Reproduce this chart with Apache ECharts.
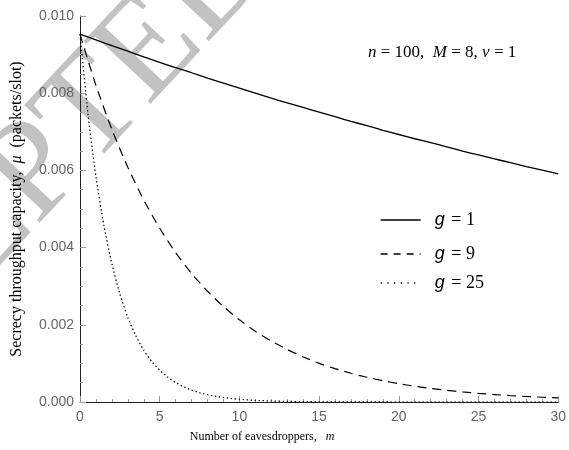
<!DOCTYPE html>
<html>
<head>
<meta charset="utf-8">
<script src="https://cdn.jsdelivr.net/npm/echarts@6/dist/echarts.min.js"></script>
<style>
html,body{margin:0;padding:0;background:#fff;}
#chart{width:569px;height:450px;}
</style>
</head>
<body>
<div id="chart"></div>
<script>
// Number of eavesdroppers m (integer grid) and finer grid for g = 25
const mGrid = [0,1,2,3,4,5,6,7,8,9,10,11,12,13,14,15,16,17,18,19,20,21,22,23,24,25,26,27,28,29,30];
const capG1 = [0.00953,0.00938,0.00923,0.00909,0.00894,0.00880,0.00866,0.00853,0.00839,0.00826,0.00813,
  0.00800,0.00787,0.00775,0.00763,0.00751,0.00739,0.00727,0.00716,0.00704,0.00693,
  0.00682,0.00672,0.00661,0.00650,0.00640,0.00630,0.00620,0.00610,0.00601,0.00591];
const capG9 = [0.00953,0.00820,0.00706,0.00608,0.00523,0.00450,0.00387,0.00333,0.00287,0.00247,0.00213,
  0.00183,0.00158,0.00136,0.00117,0.00100,0.000865,0.000744,0.000641,0.000551,0.000474,
  0.000408,0.000352,0.000302,0.000260,0.000224,0.000193,0.000166,0.000143,0.000123,0.000106];
const mFine = [0,0.5,1,1.5,2,2.5,3,3.5,4,4.5,5,5.5,6,6.5,7,7.5,8,8.5,9,9.5,10,
  11,12,13,14,15,16,17,18,19,20,21,22,23,24,25,26,27,28,29,30];
const capG25 = [0.00953,0.00746,0.00584,0.00457,0.00358,0.00280,0.00219,0.00172,0.00134,0.00105,0.000823,
  0.000644,0.000504,0.000395,0.000309,0.000242,0.000189,0.000148,0.000116,0.000091,0.000071,
  0.000043,0.000027,0.000016,0.000010,0.000006,0.000004,0.000002,0.000001,0.000001,0,
  0,0,0,0,0,0,0,0,0,0];
const seriesNames = ['g = 1','g = 9','g = 25'];
const yTicks = [0, 0.002, 0.004, 0.006, 0.008, 0.010];

const pairs = (xs, ys) => xs.map((x, i) => [x, ys[i]]);

const chart = echarts.init(document.getElementById('chart'), null, {renderer:'canvas'});
const serif = '"Liberation Serif", "Times New Roman", serif';
const sans = '"Liberation Sans", Arial, sans-serif';

function legendFor(idx, top, dash) {
  return {
    data: [seriesNames[idx]],
    left: 380, top: top, padding: 0,
    itemWidth: 40, itemHeight: 14,
    itemStyle: {opacity: 0},
    lineStyle: {type: dash, width: 1.3, color: '#000'},
    formatter: function (name) { return '{g|g}  {t|' + name.slice(2) + '}'; },
    textStyle: {
      rich: {
        g: {fontFamily: sans, fontSize: 18, fontStyle: 'italic', color: '#000', padding: [0,0,0,9]},
        t: {fontFamily: serif, fontSize: 18, color: '#000'}
      }
    }
  };
}

const option = {
  animation: false,
  backgroundColor: '#fff',
  grid: {left: 80, right: 9, top: 16, bottom: 48, containLabel: false},
  graphic: [
    {
      type: 'text', z: -10, silent: true,
      x: -194, y: 522, rotation: 47 * Math.PI / 180,
      style: {text: 'ACCEPTED MANUSCRIPT', font: '140px ' + serif, fill: '#c2c2c2', textAlign: 'left', textVerticalAlign: 'bottom'}
    },
    {
      type: 'text', left: 368, top: 44,
      style: {
        text: '{i|n} = 100,  {i|M} = 8, {i|v} = 1',
        font: '17px ' + serif, fill: '#000',
        rich: {i: {fontFamily: serif, fontSize: 17, fontStyle: 'italic', color: '#000'}}
      }
    }
  ],
  legend: [legendFor(0, 211, 'solid'), legendFor(1, 245, [7, 6]), legendFor(2, 274, [1.2, 5.5])],
  xAxis: {
    type: 'value', min: 0, max: 30, interval: 5,
    name: 'Number of eavesdroppers,   {i|m}',
    nameLocation: 'middle', nameGap: 29,
    nameTextStyle: {fontFamily: serif, fontSize: 12, color: '#000', padding: [0, 114, 0, 0],
      rich: {i: {fontFamily: serif, fontSize: 12, fontStyle: 'italic', color: '#000'}}},
    axisLine: {show: true, onZero: false, lineStyle: {color: '#222', width: 1}},
    axisTick: {show: true, inside: true, length: 6, lineStyle: {color: '#999'}},
    minorTick: {show: true, splitNumber: 5, length: 3, lineStyle: {color: '#999'}},
    axisLabel: {fontFamily: sans, fontSize: 14, color: '#666', margin: 8},
    splitLine: {show: false}
  },
  yAxis: {
    type: 'value', min: 0, max: 0.010, interval: 0.002,
    name: 'Secrecy throughput capacity,  {i|μ}  (packets/slot)',
    nameLocation: 'middle', nameGap: 55,
    nameTextStyle: {fontFamily: serif, fontSize: 16, color: '#000',
      rich: {i: {fontFamily: serif, fontSize: 16, fontStyle: 'italic', color: '#000'}}},
    axisLine: {show: true, onZero: false, lineStyle: {color: '#222', width: 1}},
    axisTick: {show: true, inside: true, length: 6, lineStyle: {color: '#999'}},
    minorTick: {show: true, splitNumber: 4, length: 3, lineStyle: {color: '#999'}},
    axisLabel: {fontFamily: sans, fontSize: 14, color: '#666', margin: 6,
      formatter: function (v) { return v.toFixed(3); }},
    splitLine: {show: false}
  },
  series: [
    {name: seriesNames[0], type: 'line', data: pairs(mGrid, capG1), showSymbol: false, symbol: 'none', smooth: 0.2,
      lineStyle: {color: '#000', width: 1.3, type: 'solid'}, itemStyle: {color: '#000'}, z: 3},
    {name: seriesNames[1], type: 'line', data: pairs(mGrid, capG9), showSymbol: false, symbol: 'none', smooth: 0.2,
      lineStyle: {color: '#000', width: 1.2, type: [9, 6]}, itemStyle: {color: '#000'}, z: 3},
    {name: seriesNames[2], type: 'line', data: pairs(mFine, capG25), showSymbol: false, symbol: 'none', smooth: 0.2,
      lineStyle: {color: '#000', width: 1.2, type: [1.5, 2.5]}, itemStyle: {color: '#000'}, z: 3}
  ]
};
chart.setOption(option);
</script>
</body>
</html>
